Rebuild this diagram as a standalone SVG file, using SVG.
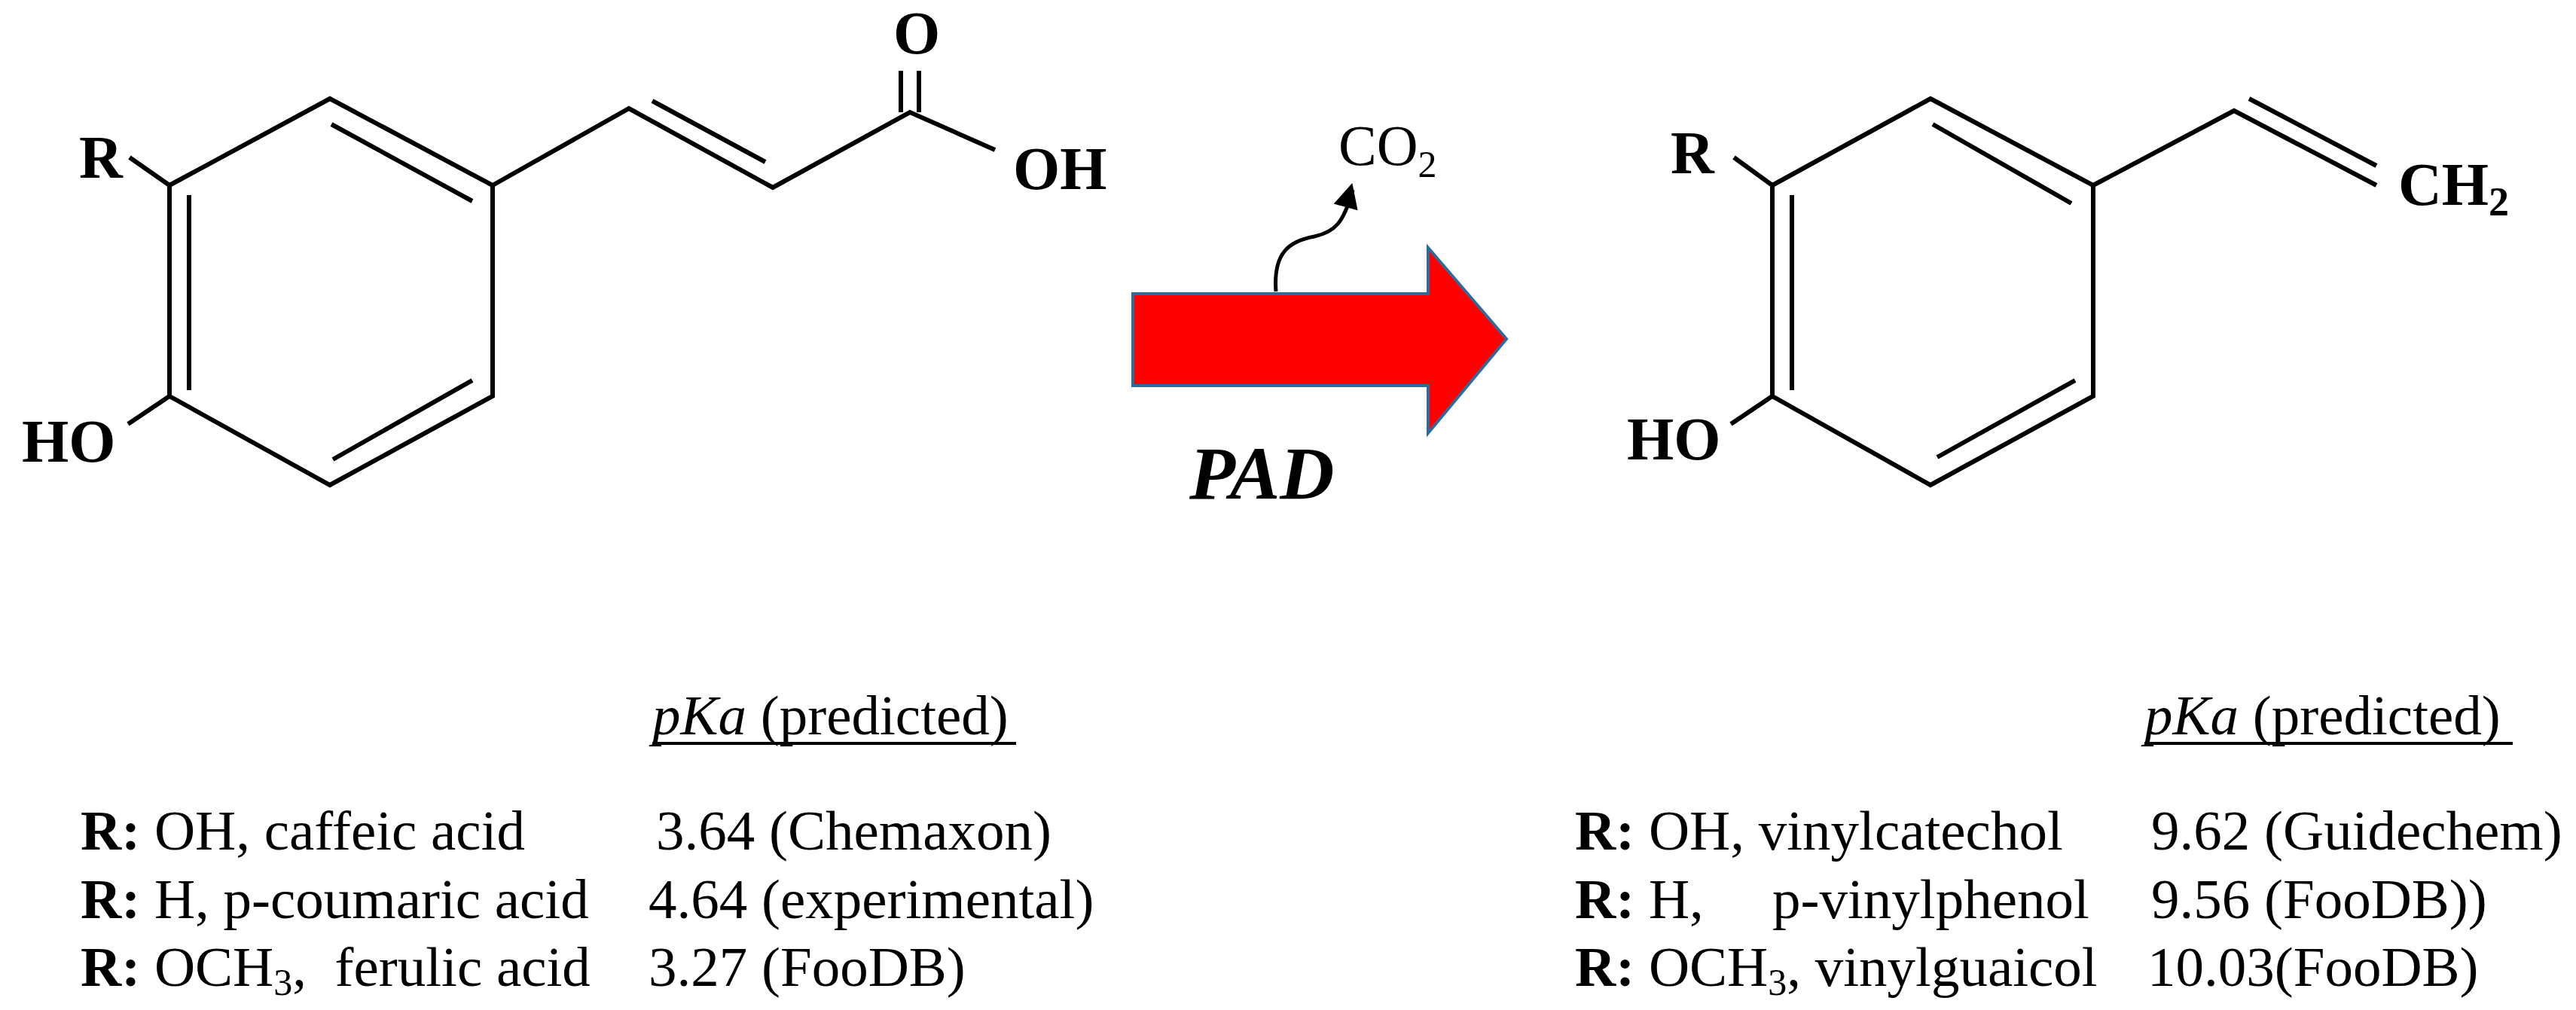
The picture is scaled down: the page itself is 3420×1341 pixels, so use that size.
<svg xmlns="http://www.w3.org/2000/svg" width="3420" height="1341" viewBox="0 0 3420 1341">
<style>
.b{stroke:#000;stroke-width:6;fill:none;stroke-linecap:butt;stroke-linejoin:miter}
.at{font-family:"Liberation Serif",serif;font-weight:bold;font-size:80px;fill:#000}
.t{font-family:"Liberation Serif",serif;font-size:75px;fill:#000}
.bo{font-weight:bold}
</style>
<defs>
<marker id="ah" viewBox="0 0 10 10" refX="8" refY="5" markerWidth="6" markerHeight="6" orient="auto" markerUnits="userSpaceOnUse" style="overflow:visible">
<path d="M0,0 L10,5 L0,10 Z" fill="#000" transform="scale(5.5) translate(-6,-5)"/>
</marker>
</defs>
<rect width="3420" height="1341" fill="#fff"/>
<g id="substrate">
<path class="b" d="M225,246 L438,131 L654,246 L654,526 L438,644 L225,526 Z"/>
<path class="b" d="M251,259 L251,518 M440,165 L627,267 M627,505 L442,610"/>
<path class="b" d="M172,209 L225,246 M170,563 L225,526"/>
<path class="b" d="M654,246 L835,144 L1026,249 L1208,149 L1321,199 M866,134 L1016,215 M1196,149 L1196,94 M1220,149 L1220,94"/>
<text class="at" x="105" y="236">R</text>
<text class="at" x="29" y="613">HO</text>
<text class="at" x="1186" y="71">O</text>
<text class="at" x="1345" y="251">OH</text>
</g>
<g id="reaction-arrow">
<path d="M1504,390 L1896,390 L1896,329 L2000,450 L1896,575 L1896,512 L1504,512 Z" fill="#ff0000" stroke="#2e6a9a" stroke-width="4"/>
<text x="1579" y="662" font-family="'Liberation Serif',serif" font-weight="bold" font-style="italic" font-size="100">PAD</text>
</g>
<g id="co2">
<text x="1777" y="219" font-family="'Liberation Serif',serif" font-size="76">CO<tspan font-size="50" dy="16">2</tspan></text>
</g>
<g id="connectors">
<path d="M1694,387 C1690,335 1712,320 1745,314 C1772,308 1784,296 1796,252" fill="none" stroke="#000" stroke-width="5" marker-end="url(#ah)"/>
</g>
<g id="product">
<path class="b" d="M2353,246 L2563,131 L2779,246 L2779,526 L2563,644 L2353,526 Z"/>
<path class="b" d="M2379,259 L2379,518 M2566,165 L2750,270 M2755,505 L2572,607"/>
<path class="b" d="M2302,209 L2353,246 M2298,563 L2353,526"/>
<path class="b" d="M2779,246 L2966,147 L3155,246 M2986,131 L3155,220"/>
<text class="at" x="2218" y="230">R</text>
<text class="at" x="2160" y="610">HO</text>
<text class="at" x="3184" y="272">CH<tspan font-size="54" dy="14">2</tspan></text>
</g>
<g id="substrate-table">
<text class="t" x="866" y="975"><tspan font-style="italic">pKa</tspan> (predicted)</text>
<line x1="866" y1="987" x2="1349" y2="987" stroke="#000" stroke-width="4"/>
<text class="t" x="107" y="1128"><tspan class="bo">R:</tspan> OH, caffeic acid</text>
<text class="t" x="871" y="1128">3.64 (Chemaxon)</text>
<text class="t" x="107" y="1219"><tspan class="bo">R:</tspan> H, p-coumaric acid</text>
<text class="t" x="861" y="1219">4.64 (experimental)</text>
<text class="t" x="107" y="1309" xml:space="preserve"><tspan class="bo">R:</tspan> OCH<tspan font-size="50" dy="12">3</tspan><tspan dy="-12">,  ferulic acid</tspan></text>
<text class="t" x="861" y="1309">3.27 (FooDB)</text>
</g>
<g id="product-table">
<text class="t" x="2847" y="975"><tspan font-style="italic">pKa</tspan> (predicted)</text>
<line x1="2847" y1="987" x2="3336" y2="987" stroke="#000" stroke-width="4"/>
<text class="t" x="2091" y="1128"><tspan class="bo">R:</tspan> OH, vinylcatechol</text>
<text class="t" x="2856" y="1128">9.62 (Guidechem)</text>
<text class="t" x="2091" y="1219"><tspan class="bo">R:</tspan> H,</text>
<text class="t" x="2353" y="1219">p-vinylphenol</text>
<text class="t" x="2856" y="1219">9.56 (FooDB))</text>
<text class="t" x="2091" y="1309"><tspan class="bo">R:</tspan> OCH<tspan font-size="50" dy="12">3</tspan><tspan dy="-12">, vinylguaicol</tspan></text>
<text class="t" x="2851" y="1309">10.03(FooDB)</text>
</g>
</svg>
